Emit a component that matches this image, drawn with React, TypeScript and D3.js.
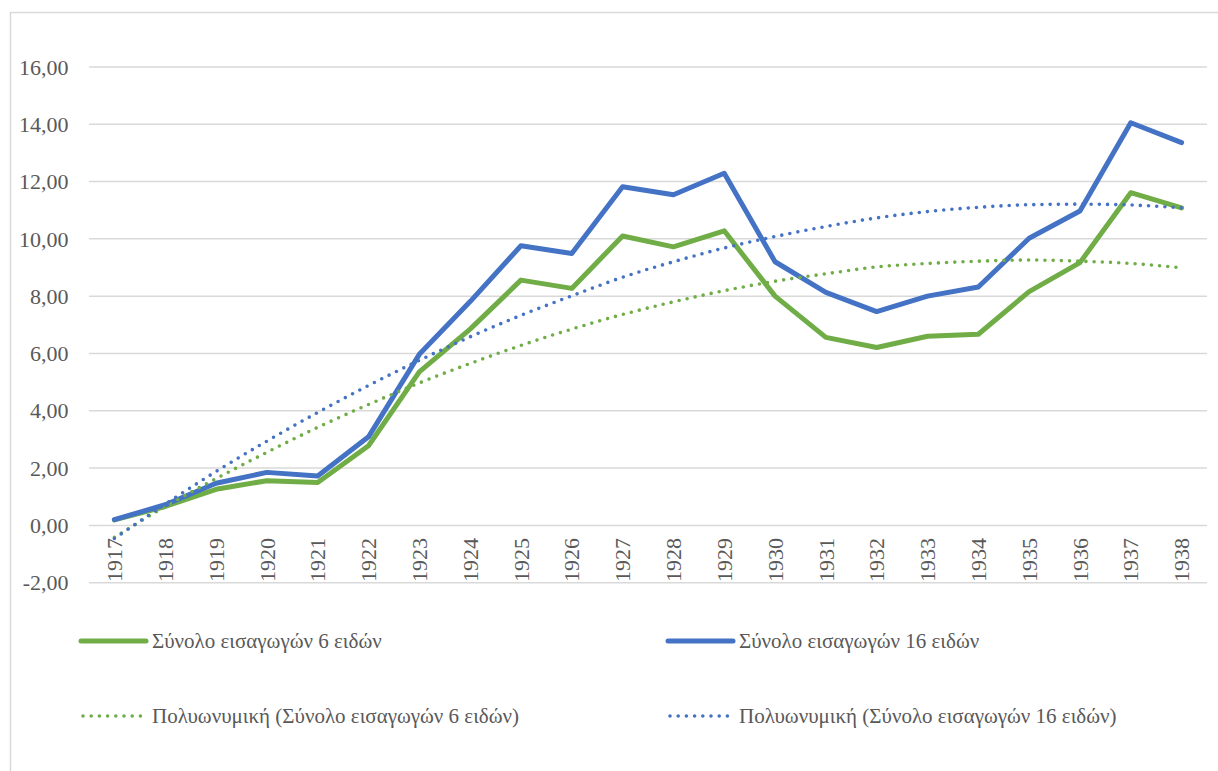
import React from "react";
import * as d3 from "d3";

const years = ["1917","1918","1919","1920","1921","1922","1923","1924","1925","1926","1927","1928","1929","1930","1931","1932","1933","1934","1935","1936","1937","1938"];
const total6 = [0.19,0.66,1.26,1.56,1.5,2.78,5.36,6.85,8.56,8.27,10.1,9.72,10.28,8.0,6.56,6.21,6.6,6.67,8.16,9.17,11.61,11.08];
const total16 = [0.2,0.72,1.47,1.85,1.72,3.09,5.97,7.81,9.76,9.49,11.82,11.54,12.29,9.2,8.13,7.46,8.0,8.32,10.02,10.97,14.05,13.36];
const trend6 = [-0.42,0.66,1.63,2.55,3.42,4.22,4.97,5.65,6.28,6.85,7.36,7.8,8.19,8.52,8.78,9.02,9.14,9.22,9.26,9.22,9.14,8.99];
const trend16 = [-0.46,0.74,1.88,2.94,3.94,4.88,5.76,6.58,7.33,8.01,8.66,9.2,9.68,10.08,10.43,10.73,10.95,11.1,11.19,11.21,11.18,11.08];
const yTicks = [-2,0,2,4,6,8,10,12,14,16];
const legendLabels = [
  "Σύνολο εισαγωγών 6 ειδών",
  "Σύνολο εισαγωγών 16 ειδών",
  "Πολυωνυμική (Σύνολο εισαγωγών 6 ειδών)",
  "Πολυωνυμική (Σύνολο εισαγωγών 16 ειδών)",
];

const GREEN = "#70AD47";
const BLUE = "#4472C4";
const GRID = "#d9d9d9";
const TEXT = "#595959";
const FONT = "'Liberation Serif', 'DejaVu Serif', serif";

export default function App() {
  const W = 1218, H = 771;
  const x = d3.scaleBand<string>().domain(years).range([89, 1207]);
  const y = d3.scaleLinear().domain([-2, 16]).range([582.7, 66.9]);
  const cx = (i: number) => (x(years[i]) as number) + x.bandwidth() / 2;
  const line = d3.line<number>().x((_, i) => cx(i)).y((d) => y(d));
  const smooth = d3.line<number>().x((_, i) => cx(i)).y((d) => y(d)).curve(d3.curveMonotoneX);

  const series = [
    { data: total6, color: GREEN, dotted: false },
    { data: total16, color: BLUE, dotted: false },
    { data: trend6, color: GREEN, dotted: true },
    { data: trend16, color: BLUE, dotted: true },
  ];
  const legendPos = [
    { x: 81, y: 641 },
    { x: 668, y: 641 },
    { x: 81, y: 716 },
    { x: 668, y: 716 },
  ];

  return (
    <svg width={W} height={H} style={{ position: "fixed", left: 0, top: 0, background: "#fff" }} fontFamily={FONT}>
      <rect x={0} y={0} width={W} height={H} fill="#fff" />
      <line x1={10.5} x2={10.5} y1={12} y2={H} stroke={GRID} strokeWidth={1.5} />
      <line x1={10} x2={W} y1={12.5} y2={12.5} stroke={GRID} strokeWidth={1.5} />
      {yTicks.map((t) => (
        <g key={t}>
          <line x1={89} x2={1207} y1={y(t)} y2={y(t)} stroke={GRID} strokeWidth={1.5} />
          <text x={68.5} y={y(t)} dy="0.35em" textAnchor="end" fontSize={22} fill={TEXT}>
            {d3.format(".2f")(t).replace(".", ",").replace("−", "-")}
          </text>
        </g>
      ))}
      {years.map((yr, i) => (
        <text key={yr} transform={`translate(${cx(i)},538) rotate(-90)`} dy="0.35em" textAnchor="end" fontSize={22} fill={TEXT}>
          {yr}
        </text>
      ))}
      {series.map((s, k) =>
        s.dotted ? (
          <path key={k} d={smooth(s.data) || ""} fill="none" stroke={s.color} strokeWidth={3.6} strokeLinecap="round" strokeDasharray="0 8.2" />
        ) : (
          <path key={k} d={line(s.data) || ""} fill="none" stroke={s.color} strokeWidth={5} strokeLinejoin="round" strokeLinecap="round" />
        )
      )}
      {legendLabels.map((lab, k) => {
        const p = legendPos[k];
        const s = series[k];
        return (
          <g key={lab}>
            {s.dotted ? (
              <line x1={p.x + 2} x2={p.x + 63} y1={p.y} y2={p.y} stroke={s.color} strokeWidth={3.6} strokeLinecap="round" strokeDasharray="0 8.2" />
            ) : (
              <line x1={p.x} x2={p.x + 65} y1={p.y} y2={p.y} stroke={s.color} strokeWidth={5} strokeLinecap="round" />
            )}
            <text x={p.x + 71} y={p.y} dy="0.35em" fontSize={21} fill={TEXT}>
              {lab}
            </text>
          </g>
        );
      })}
    </svg>
  );
}
